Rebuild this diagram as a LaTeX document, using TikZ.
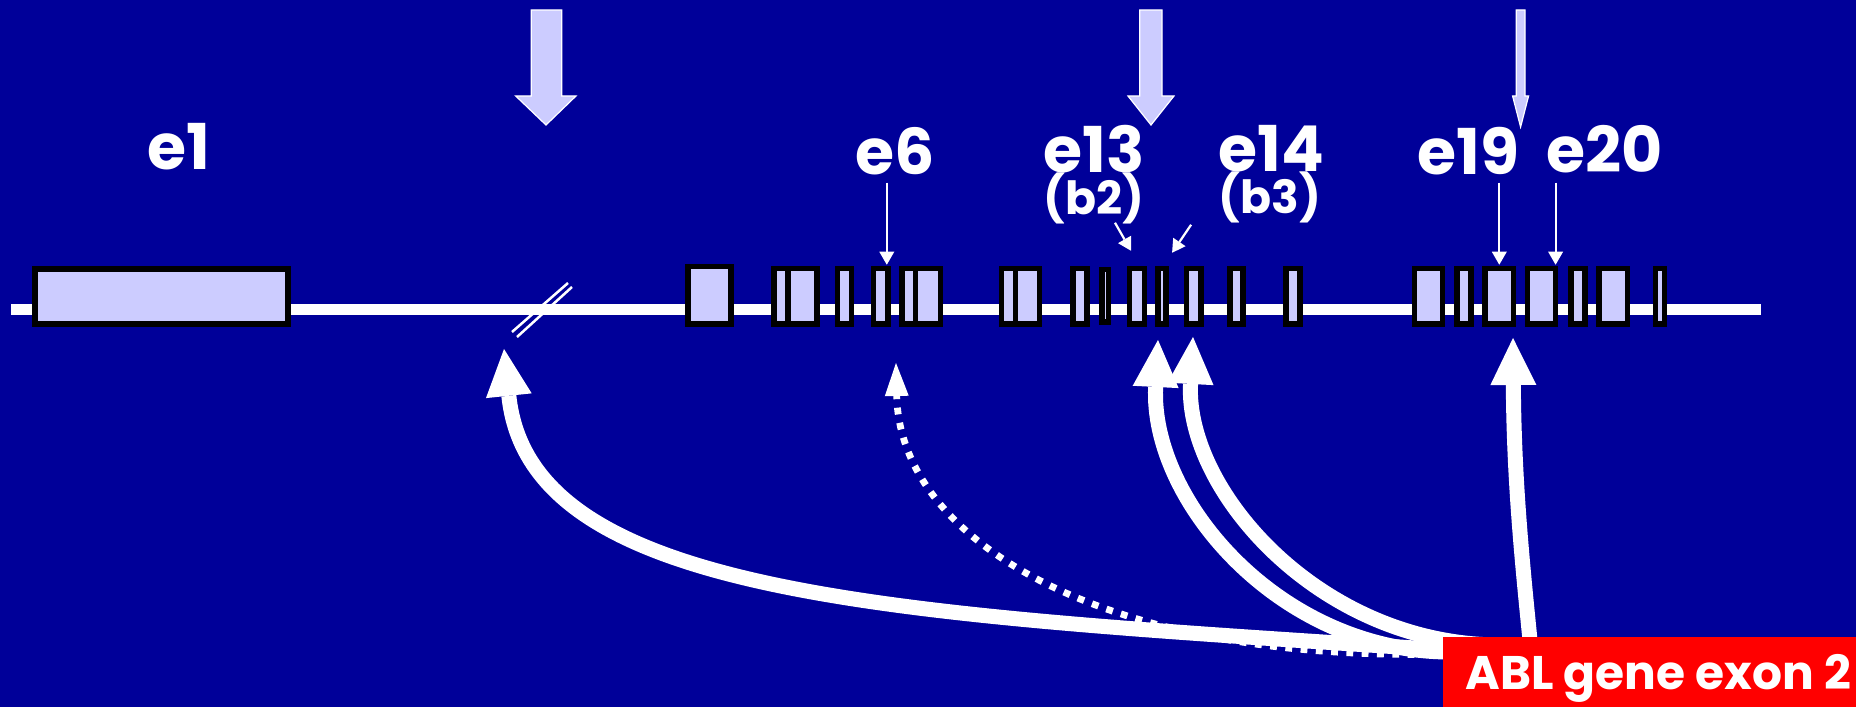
\documentclass[tikz,border=0pt]{standalone}
\usepackage{fontspec}
\setmainfont{Poppins}
\usetikzlibrary{arrows.meta,calc}
\definecolor{bg}{HTML}{000099}
\definecolor{lav}{HTML}{CCCCFF}
\definecolor{ablred}{HTML}{FF0000}
% exon label with its breakpoint name set underneath
\newcommand{\exlabel}[2]{\begin{tabular}[t]{@{}l@{}}#1\\[-8.3pt]{\fontsize{13}{15}\selectfont #2}\end{tabular}}
\begin{document}
\begin{tikzpicture}[x=0.1mm, y=-0.1mm,
  exon/.style={draw=black, fill=lav, line width=0.55mm, inner sep=0, outer sep=0, minimum height=5.55mm},
  lbl/.style={text=white, font=\fontsize{18}{20}\selectfont\bfseries, inner sep=0, text depth=0pt, anchor=base west},
  pointer/.style={draw=white, line width=0.22mm, -{Triangle[length=1.3mm, width=1.5mm, line width=0pt]}},
  bigarrow/.style={draw=white, line width=1.5mm, -{Triangle[length=4.7mm, width=4.6mm, line width=0pt]}},
  dotarrow/.style={draw=white, line width=0.68mm, dash pattern=on 0.68mm off 0.85mm, -{Triangle[length=3.3mm, width=2.4mm, line width=0pt]}},
  marker/.style={fill=lav, draw=white, line width=0.12mm},
]
% background
\fill[bg] (0,0) rectangle (1856,707);
\useasboundingbox (0,0) rectangle (1856,707);

% breakpoint markers
\path[marker] (531.3,10) -- (561.7,10) -- (561.7,96) -- (576,96) -- (546,125) -- (515.7,96) -- (531.3,96) -- cycle;
\path[marker] (1139.8,10) -- (1162,10) -- (1162,96) -- (1174,96) -- (1151,125) -- (1128,96) -- (1139.8,96) -- cycle;
\path[marker] (1516.3,10) -- (1525,10) -- (1525,96) -- (1528.6,96) -- (1520.6,127) -- (1512.6,96) -- (1516.3,96) -- cycle;

% gene backbone
\coordinate (gstart) at (11,309.5);
\coordinate (gend) at (1760.6,309.5);
\draw[white, line width=1.1mm] (gstart) -- (gend);

% break in the intron
\draw[white, line width=0.25mm] (512,332) -- (568,283);
\draw[white, line width=0.25mm] (517,337) -- (572,287);

% exons
\node[exon, line width=0.6mm, minimum width=25.3mm, minimum height=5.5mm] (E1) at (161.1,296.5) {};
\node[exon, minimum width=4.32mm, minimum height=5.75mm] (A) at (709.6,295.5) {};
\node[exon, minimum width=1.36mm] (B1) at (781,296.5) {};
\node[exon, minimum width=2.91mm] (B2) at (802.35,296.5) {};
\node[exon, minimum width=1.39mm] (C) at (844.4,296.5) {};
\node[exon, minimum width=1.47mm] (D) at (880.8,296.5) {};
\node[exon, minimum width=1.36mm] (E1a) at (908.8,296.5) {};
\node[exon, minimum width=2.47mm] (E2a) at (928,296.5) {};
\node[exon, minimum width=1.40mm] (F1) at (1008.6,296.5) {};
\node[exon, minimum width=2.40mm] (F2) at (1027.6,296.5) {};
\node[exon, minimum width=1.42mm] (G) at (1079.9,296.5) {};
\node[exon, minimum width=0.64mm, minimum height=5.25mm] (H) at (1105.2,296) {};
\node[exon, minimum width=1.47mm] (I) at (1137,296.5) {};
\node[exon, minimum width=0.79mm] (J) at (1162.1,296.5) {};
\node[exon, minimum width=1.46mm] (K) at (1193.6,296.5) {};
\node[exon, minimum width=1.34mm] (L) at (1236.5,296.5) {};
\node[exon, minimum width=1.42mm] (M) at (1293,296.5) {};
\node[exon, minimum width=2.79mm] (N) at (1428.4,296.5) {};
\node[exon, minimum width=1.42mm] (O) at (1464,296.5) {};
\node[exon, minimum width=2.83mm] (P) at (1499.3,296.5) {};
\node[exon, minimum width=2.78mm] (Q) at (1541.6,296.5) {};
\node[exon, minimum width=1.42mm] (R) at (1577.9,296.5) {};
\node[exon, minimum width=2.82mm] (S) at (1613.3,296.5) {};
\node[exon, minimum width=0.87mm] (T) at (1660,296.5) {};

% exon labels
\node[lbl] (le1) at (147,170) {e1};
\node[lbl] (le6) at (855,175) {e6};
\node[lbl] (le13) at (1043,173) {\exlabel{e13}{(b2)}};
\node[lbl] (le14) at (1218,172) {\exlabel{e14}{(b3)}};
\node[lbl] (le19) at (1417,175) {e19};
\node[lbl] (le20) at (1546,173) {e20};

% pointers to exons
\draw[pointer] ($(D.north |- le6.south)+(6,7)$) -- ($(D.north)+(6,-4)$);
\draw[pointer] ($(P.north |- le19.south)+(0,7)$) -- ($(P.north)+(0,-4)$);
\draw[pointer] ($(Q.north |- le20.south)+(14,9)$) -- ($(Q.north)+(14,-4)$);
\draw[pointer] ($(I.north)+(-22,-46)$) -- ($(I.north)+(-6,-18)$);
\draw[pointer] ($(J.north)+(29,-44)$) -- ($(J.north)+(10,-16)$);

% fusion junctions from ABL exon 2
\coordinate (s1) at (1445,650);
\coordinate (s2) at (1445,654);
\coordinate (s3) at (1450,652);
\coordinate (s4) at (1500,645);
\coordinate (s5) at (1530,640);
\coordinate (t1) at (504,349);
\coordinate (t2) at (896,363);
\coordinate (t3) at (1158,340);
\coordinate (t4) at (1193,337);
\coordinate (t5) at (1513,338);
\draw[bigarrow] (s1) .. controls (900,614) and (530,600) .. (t1);
\draw[dotarrow] (s2) .. controls (1100,662) and (900,540) .. (t2);
\draw[bigarrow] (s3) .. controls (1280,652) and (1150,500) .. (t3);
\draw[bigarrow] (s4) .. controls (1320,645) and (1185,490) .. (t4);
\draw[bigarrow] (s5) .. controls (1522,560) and (1514,480) .. (t5);

% ABL exon 2 box
\node[fill=ablred, inner sep=0, minimum width=41.4mm, minimum height=7.1mm, anchor=north west] (ablbox) at (1442,636) {};
\node[text=white, font=\fontsize{13.4}{15}\selectfont\bfseries, inner sep=0, anchor=base west] (abl) at (1465,690) {ABL gene exon 2};
\end{tikzpicture}
\end{document}
